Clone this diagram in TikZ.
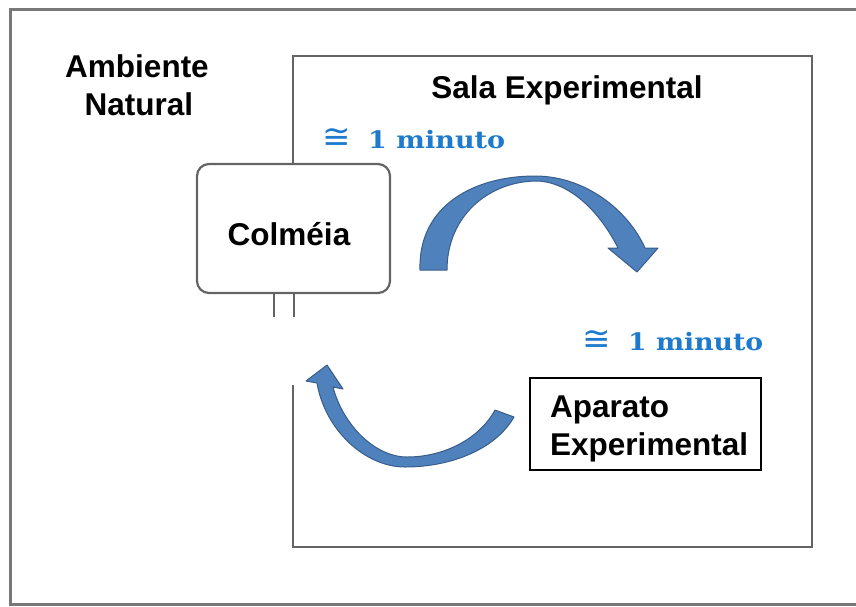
\documentclass[tikz,border=0pt]{standalone}
\usepackage{fontspec}
\usepackage{graphicx}
\setmainfont{Liberation Sans}
\newfontfamily\minfont{DejaVu Serif}
\newfontfamily\symfont{DejaVu Sans}
\definecolor{framegray}{RGB}{120,120,120}
\definecolor{roomgray}{RGB}{100,100,100}
\definecolor{arrowfill}{RGB}{79,129,189}
\definecolor{arrowline}{RGB}{56,93,138}
\definecolor{timeblue}{RGB}{30,122,205}
\tikzset{
  lbl/.style={inner sep=0pt, font=\fontsize{31.5}{36}\selectfont\bfseries},
  timesym/.style={inner sep=0pt, text=timeblue, font=\symfont\fontsize{34}{38}\selectfont},
  timetxt/.style={inner sep=0pt, text=timeblue, font=\minfont\fontsize{24}{28}\selectfont\bfseries},
  bigarrow/.style={fill=arrowfill, draw=arrowline, line width=1pt, line join=round},
  hivebox/.style={draw=roomgray, line width=2.2pt, rounded corners=12pt, minimum width=193pt, minimum height=129pt, inner sep=0pt},
  appbox/.style={draw=black, line width=1.5pt, minimum width=231pt, minimum height=92pt, inner sep=0pt}
}
\begin{document}
\begin{tikzpicture}[x=1pt,y=-1pt]
\useasboundingbox (0,0) rectangle (856,606);
\begin{scope}
\clip (0,0) rectangle (856,606);
% outer frame (Ambiente Natural)
\draw[framegray, line width=3pt] (10,9) rectangle (880,604);
\end{scope}
% room (Sala Experimental)
\coordinate (rbot) at (293,385);
\coordinate (rtop) at (293,164);
\draw[roomgray, line width=2.8pt, line join=miter] (rbot) -- (293,547) -- (812,547) -- (812,56) -- (293,56) -- (rtop);
% hive
\node[hivebox] (colmeia) at (293.5,228.5) {};
\coordinate (s1a) at (274,293); \coordinate (s1b) at (274,317);
\coordinate (s2a) at (294,293); \coordinate (s2b) at (294,317);
\draw[roomgray, line width=2.5pt] (s1a) -- (s1b) (s2a) -- (s2b);
\node[lbl, anchor=base] (colmeiatxt) at (289,245) {Colméia};
% apparatus
\node[appbox] (aparato) at (645.5,424) {};
\node[lbl, anchor=base west] (ap1) at (550,417) {Aparato};
\node[lbl, anchor=base west] (ap2) at (550,455) {Experimental};
% labels
\node[lbl, anchor=base] (amb1) at (137,77) {Ambiente};
\node[lbl, anchor=base] (amb2) at (139,115) {Natural};
\node[lbl, anchor=base] (sala) at (567,98) {Sala Experimental};
% times
\node[timesym, anchor=base] (t1s) at (337,148) {≅};
\node[timetxt, anchor=base west] (t1) at (368,148) {\resizebox{137pt}{\height}{1 minuto}};
\node[timesym, anchor=base] (t2s) at (597,350) {≅};
\node[timetxt, anchor=base west] (t2) at (628,350) {\resizebox{135pt}{\height}{1 minuto}};
% top curved arrow
\draw[bigarrow] (420,270) .. controls (418,205) and (475,176) .. (535,176)
  .. controls (585,176) and (628,210) .. (645,248) -- (658,248) -- (637,272) -- (608,248) -- (618,248)
  .. controls (600,212) and (570,182) .. (537,181)
  .. controls (490,181) and (447,215) .. (447,270) -- cycle;
% bottom curved arrow
\draw[bigarrow] (514,417) .. controls (495,450) and (450,467) .. (405,467)
  .. controls (365,467) and (325,430) .. (317,383) -- (306,381) -- (327,365) -- (343,389) -- (333,387)
  .. controls (343,425) and (375,457) .. (407,457)
  .. controls (445,457) and (480,438) .. (495,410) -- cycle;
\end{tikzpicture}
\end{document}
